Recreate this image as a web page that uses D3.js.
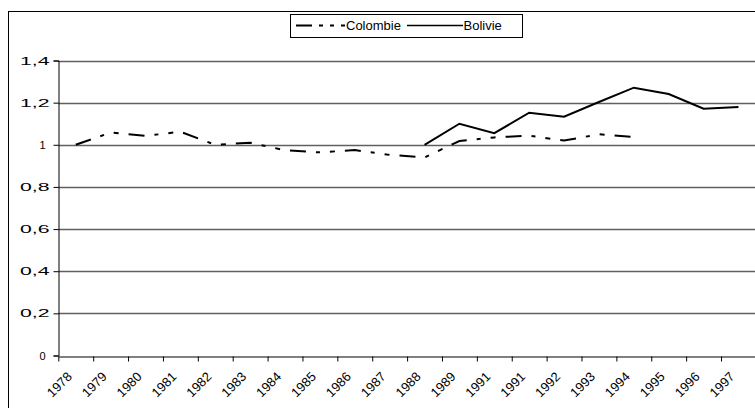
<!DOCTYPE html>
<html>
<head>
<meta charset="utf-8">
<script src="https://cdn.jsdelivr.net/npm/d3@7"></script>
<style>
  html, body { margin: 0; padding: 0; background: #fff; }
  svg { display: block; }
  text { font-family: "Liberation Sans", Arial, sans-serif; fill: #000; }
</style>
</head>
<body>
<svg id="chart" width="755" height="408"></svg>
<script>
// ---- data ----
const categories = ["1978","1979","1980","1981","1982","1983","1984","1985","1986","1987",
                    "1988","1989","1991","1991","1992","1993","1994","1995","1996","1997"];
const colombie = [1.00, 1.058, 1.042, 1.062, 1.00, 1.01, 0.974, 0.964, 0.975, 0.952,
                  0.94, 1.018, 1.035, 1.043, 1.02, 1.05, 1.037, null, null, null];
const bolivie  = [null, null, null, null, null, null, null, null, null, null,
                  1.00, 1.10, 1.055, 1.152, 1.133, 1.203, 1.271, 1.241, 1.171, 1.179];
const yTickValues = [0, 0.2, 0.4, 0.6, 0.8, 1, 1.2, 1.4];
const yTickLabels = ["0", "0,2", "0,4", "0,6", "0,8", "1", "1,2", "1,4"];
const seriesNames = ["Colombie", "Bolivie"];

(function () {
// ---- layout ----
const svg = d3.select("#chart");
const pLeft = 58.3, pRight = 755.9, pTop = 60.5, pBottom = 355.5;

// outer chart border (clipped by the window on right/bottom)
svg.append("rect")
  .attr("x", 8.5).attr("y", 11.5).attr("width", 800).attr("height", 420)
  .attr("fill", "none").attr("stroke", "#000").attr("stroke-width", 1);

const idx = d3.range(categories.length);
const xBand = d3.scaleBand().domain(idx).range([pLeft, pRight]).padding(0);
const xEdge = d3.scaleLinear().domain([0, categories.length]).range([pLeft, pRight]);
const y = d3.scaleLinear().domain([0, 1.4]).range([pBottom, pTop]);
const cx = i => xBand(i) + xBand.bandwidth() / 2;

// gridlines
svg.append("g")
  .selectAll("line")
  .data(yTickValues.filter(v => v > 0))
  .join("line")
  .attr("x1", pLeft).attr("x2", pRight + 5)
  .attr("y1", d => Math.round(y(d)) + 0.5).attr("y2", d => Math.round(y(d)) + 0.5)
  .attr("stroke", "#606060").attr("stroke-width", 1.3);

// y axis
const yAxis = svg.append("g")
  .attr("transform", `translate(${Math.round(pLeft) + 0.5},0)`)
  .call(d3.axisLeft(y).tickValues(yTickValues)
        .tickFormat((d, i) => yTickLabels[i]).tickSize(5).tickPadding(13));
yAxis.select(".domain").attr("stroke", "#000");
yAxis.selectAll(".tick line").attr("stroke", "#000");
yAxis.selectAll("text")
  .style("font-size", "11px")
  .style("font-family", '"Liberation Sans", Arial, sans-serif')
  .each(function () {
    const t = d3.select(this);
    if (t.text().includes(",")) {
      t.attr("text-anchor", "start").attr("x", -38.5)
       .attr("textLength", 29.5).attr("lengthAdjust", "spacingAndGlyphs");
    } else {
      t.attr("text-anchor", "end").attr("x", -13);
    }
  });

// x axis ticks at category boundaries
const xAxis = svg.append("g")
  .attr("transform", `translate(0,${Math.round(pBottom) + 0.5})`)
  .call(d3.axisBottom(xEdge).tickValues(d3.range(categories.length + 1))
        .tickFormat("").tickSize(5).tickSizeOuter(0));
xAxis.select(".domain").attr("stroke", "#000");
xAxis.selectAll(".tick line").attr("stroke", "#000");

// x labels, rotated
svg.append("g")
  .selectAll("text")
  .data(idx)
  .join("text")
  .attr("transform", i => `translate(${cx(i) - 3},${pBottom + 22}) rotate(-45)`)
  .attr("text-anchor", "end")
  .style("font-size", "13px")
  .text(i => categories[i]);

// lines
const line = d3.line()
  .defined(d => d.v != null)
  .x(d => cx(d.i))
  .y(d => y(d.v));

svg.append("path")
  .datum(colombie.map((v, i) => ({i, v})))
  .attr("d", line)
  .attr("fill", "none").attr("stroke", "#000").attr("stroke-width", 2)
  .attr("stroke-dasharray", "16,10,4,10,5,10");

svg.append("path")
  .datum(bolivie.map((v, i) => ({i, v})))
  .attr("d", line)
  .attr("fill", "none").attr("stroke", "#000").attr("stroke-width", 2);

// legend
const lg = svg.append("g");
lg.append("rect").attr("x", 290.5).attr("y", 14.5).attr("width", 232).attr("height", 23)
  .attr("fill", "#fff").attr("stroke", "#000").attr("stroke-width", 1);
lg.append("line").attr("x1", 296).attr("x2", 345).attr("y1", 25.5).attr("y2", 25.5)
  .attr("stroke", "#000").attr("stroke-width", 2).attr("stroke-dasharray", "16,7,4,7,4,7");
lg.append("text").attr("x", 346).attr("y", 30).style("font-size", "13px").text(seriesNames[0]);
lg.append("line").attr("x1", 407).attr("x2", 463).attr("y1", 25.5).attr("y2", 25.5)
  .attr("stroke", "#000").attr("stroke-width", 1.5);
lg.append("text").attr("x", 463.5).attr("y", 30).style("font-size", "13px").text(seriesNames[1]);
})();
</script>
</body>
</html>
